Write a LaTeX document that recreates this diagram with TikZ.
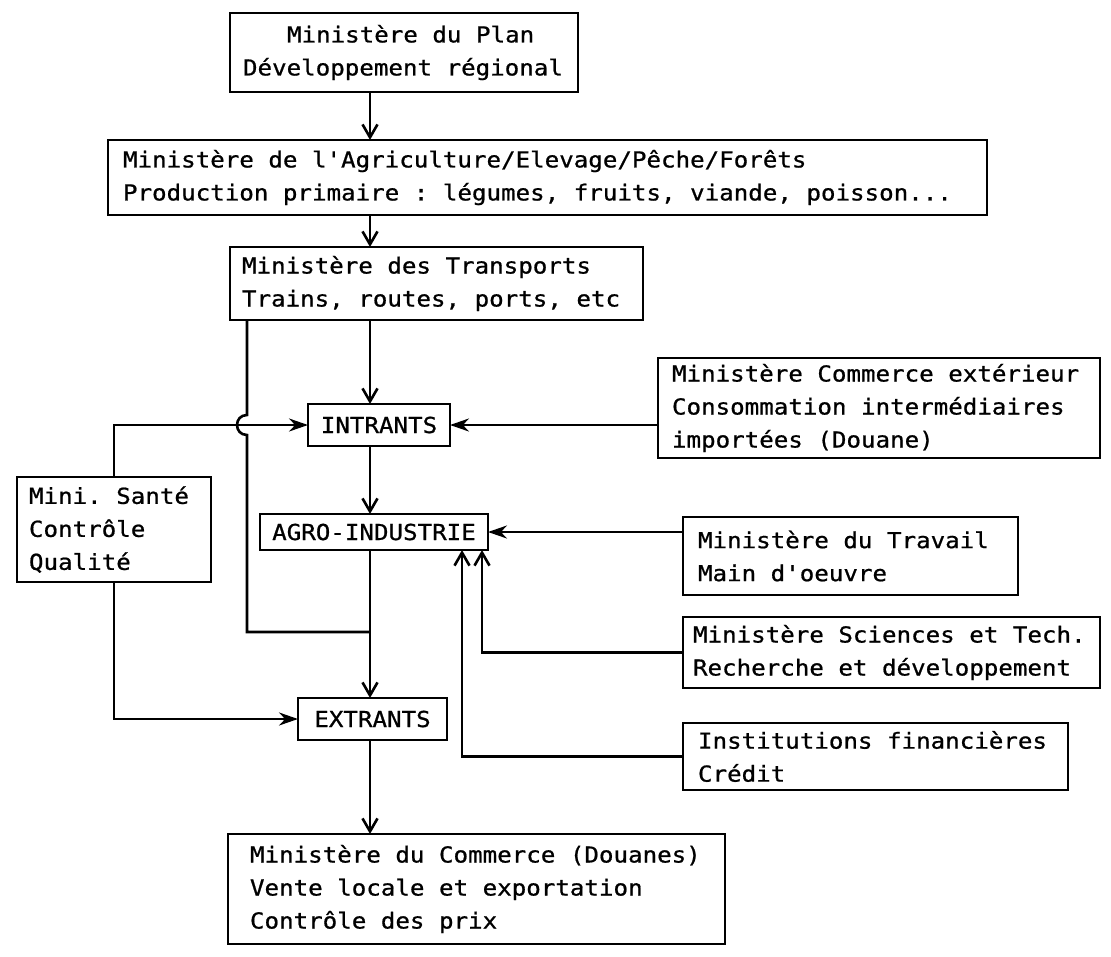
\documentclass[tikz,border=0pt]{standalone}
\usepackage{fontspec}
\usetikzlibrary{arrows.meta}
\newfontfamily\typew[FakeStretch=1.098,FakeBold=0.8]{DejaVu Sans Mono}
\newcommand\typeset{\typew\fontsize{22}{33}\selectfont}
% monospaced text: every space as wide as a character, no hyphenation
\newcommand\monospaces{\spaceskip=14.54pt\relax\xspaceskip=14.54pt\relax
  \hyphenpenalty=10000\relax\exhyphenpenalty=10000\relax}
\begin{document}
\begin{tikzpicture}[x=1pt,y=-1pt,
  every node/.style={font=\typeset, execute at begin node=\monospaces},
  box/.style={draw, line width=2.6pt, anchor=north west, inner ysep=0pt, outer sep=0pt, align=left},
  cbox/.style={draw, line width=2.6pt, anchor=north west, inner sep=0pt, outer sep=0pt, align=center},
  flow/.style={line width=2.6pt},
  down/.style={flow, -{Straight Barb[length=13pt,width=15pt,line width=2.6pt]}},
  side/.style={flow, -{Stealth[length=19pt,width=13pt]}},
]
\fill[white] (0,0) rectangle (1111,956);
\useasboundingbox (0,0) rectangle (1111,956);

% guide lines for the vertical connectors
\coordinate (spine) at (370,0);
\coordinate (lx) at (247,0);
\coordinate (ka) at (462,0);
\coordinate (kb) at (482,0);

% boxes
\node[box, inner xsep=13pt, text width=322pt, minimum height=79pt] (plan) at (230,13)
  {\hspace*{44pt}Ministère du Plan\\Développement régional};
\node[box, inner xsep=15pt, text width=849pt, minimum height=75pt] (agri) at (108,140)
  {Ministère de l'Agriculture/Elevage/Pêche/Forêts\\Production primaire : légumes, fruits, viande, poisson...};
\node[box, inner xsep=12pt, text width=389pt, minimum height=73pt] (transp) at (230,247)
  {Ministère des Transports\\Trains, routes, ports, etc};
\node[box, inner xsep=14pt, text width=414pt, minimum height=100pt] (ext) at (658,358)
  {Ministère Commerce extérieur\\Consommation intermédiaires\\importées (Douane)};
\node[cbox, minimum width=142pt, minimum height=42pt] (intr) at (308,404) {INTRANTS};
\node[box, inner xsep=12pt, text width=170pt, minimum height=105pt] (sante) at (17,477)
  {Mini. Santé\\Contrôle\\Qualité};
\node[cbox, minimum width=228pt, minimum height=36pt] (agro) at (260,514) {AGRO-INDUSTRIE};
\node[box, inner xsep=15pt, text width=305pt, minimum height=78pt] (trav) at (683,517)
  {Ministère du Travail\\Main d'oeuvre};
\node[box, inner xsep=10pt, text width=397pt, minimum height=71pt] (sci) at (683,617)
  {Ministère Sciences et Tech.\\Recherche et développement};
\node[cbox, minimum width=149pt, minimum height=42pt] (extr) at (298,698) {EXTRANTS};
\node[box, inner xsep=15pt, text width=355pt, minimum height=67pt] (fin) at (683,723)
  {Institutions financières\\Crédit};
\node[box, inner xsep=22pt, text width=453pt, minimum height=110pt] (com) at (228,834)
  {Ministère du Commerce (Douanes)\\Vente locale et exportation\\Contrôle des prix};

% main vertical chain
\draw[down] (plan.south -| spine) -- (agri.north -| spine);
\draw[down] (agri.south -| spine) -- (transp.north -| spine);
\draw[down] (transp.south -| spine) -- (intr.north -| spine);
\draw[down] (intr.south -| spine) -- (agro.north -| spine);
\draw[down] (agro.south -| spine) -- (extr.north -| spine);
\draw[down] (extr.south -| spine) -- (com.north -| spine);

% transport bypass, hopping over the health line
\coordinate (hc) at (intr.west -| lx);
\coordinate (jn) at (247,632);
\draw[flow] (transp.south -| lx) -- ([yshift=10pt]hc)
  .. controls ([xshift=-13.3pt,yshift=10pt]hc) and ([xshift=-13.3pt,yshift=-10pt]hc) .. ([yshift=-10pt]hc)
  -- (jn) -- (jn -| spine);

% health ministry
\draw[side] (sante.north) |- (intr.west);
\draw[side] (sante.south) |- (extr.west);

% inputs from the right
\draw[side] (intr.east -| ext.west) -- (intr.east);
\draw[side] (agro.east -| trav.west) -- (agro.east);
\draw[down] (sci.west) -| (agro.south -| kb);
\draw[down] (fin.west) -| (agro.south -| ka);
\end{tikzpicture}
\end{document}
